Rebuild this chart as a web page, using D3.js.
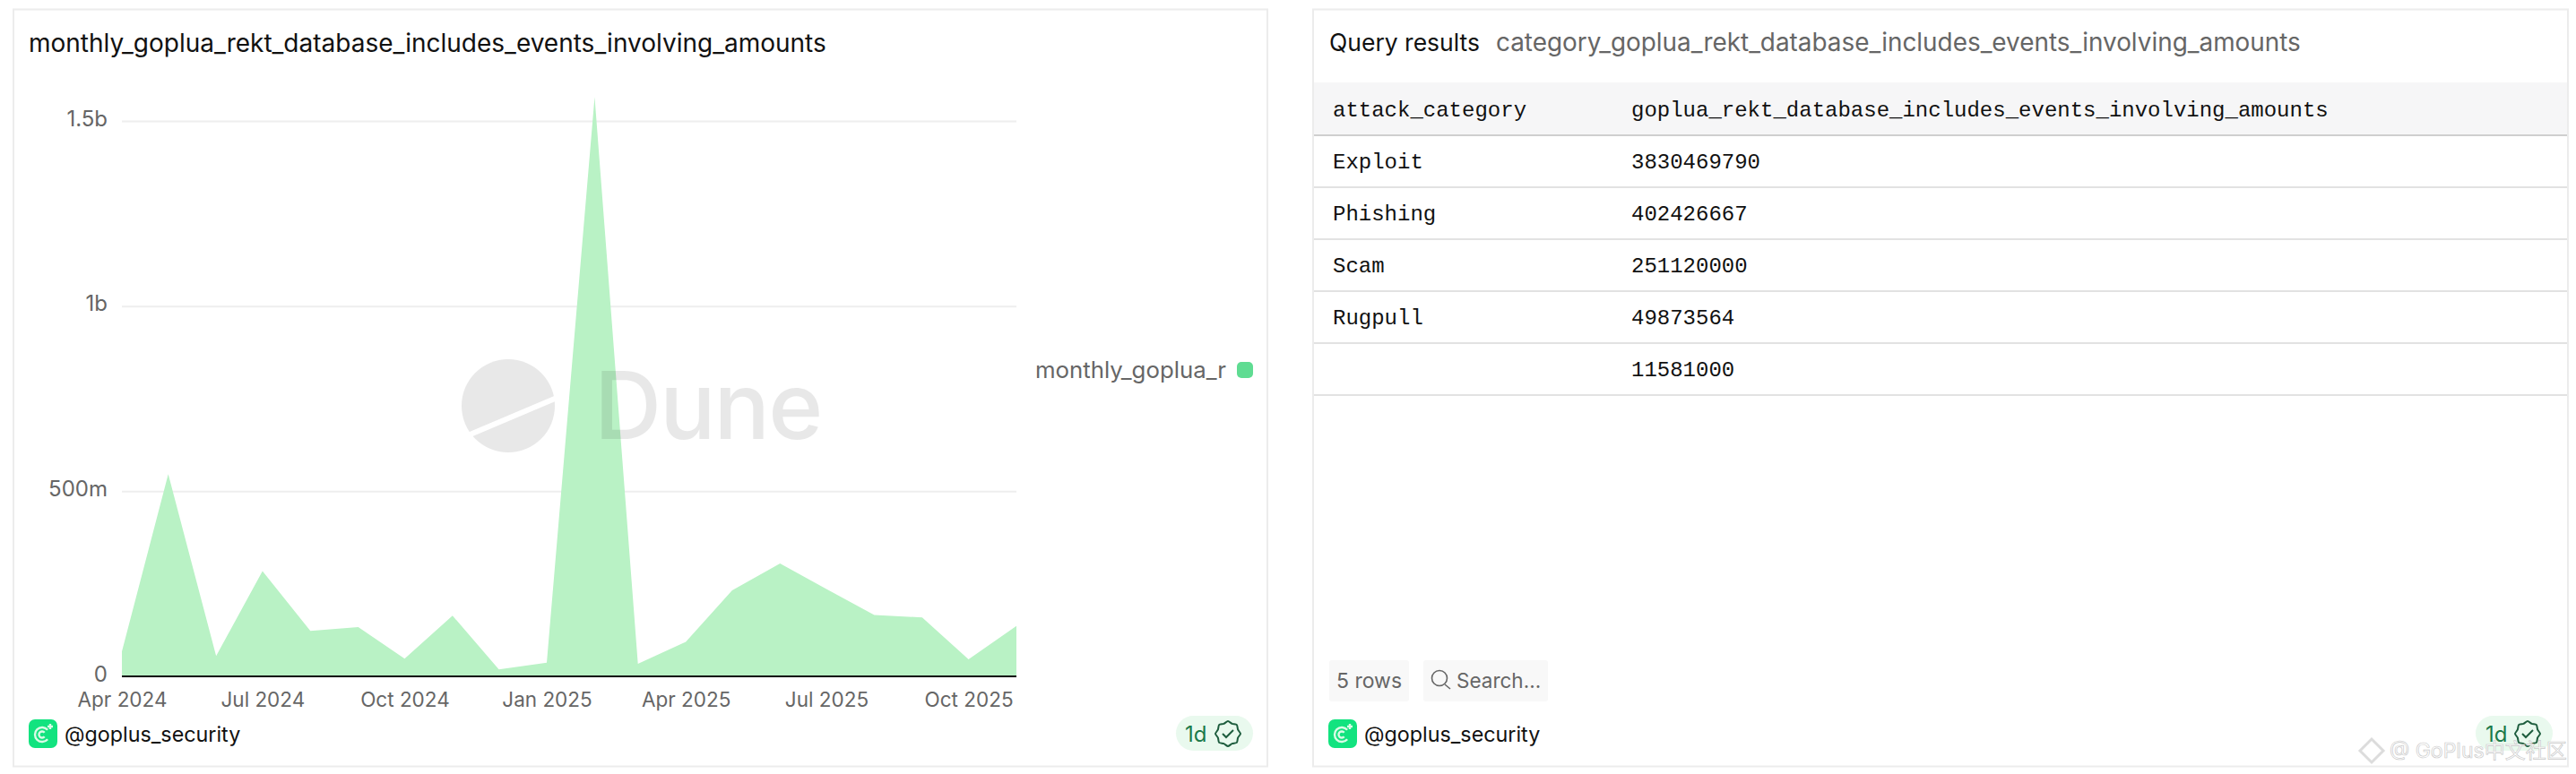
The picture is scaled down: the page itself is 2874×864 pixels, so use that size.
<!DOCTYPE html>
<html><head><meta charset="utf-8">
<script src="https://cdnjs.cloudflare.com/ajax/libs/d3/7.8.5/d3.min.js"></script>
<style>
html,body{margin:0;padding:0;background:#fff;width:2874px;height:864px;overflow:hidden}
svg{display:block}
text{font-family:Inter,"Noto Sans",sans-serif}
.mono{font-family:"Liberation Mono",monospace}
.domain{display:none}
</style></head><body><svg id="c" width="2874" height="864"></svg>
<script>
const chartTitle = "monthly_goplua_rekt_database_includes_events_involving_amounts";
const months = ["2024-04","2024-05","2024-06","2024-07","2024-08","2024-09","2024-10","2024-11","2024-12","2025-01","2025-02","2025-03","2025-04","2025-05","2025-06","2025-07","2025-08","2025-09","2025-10","2025-11"];
const monthlyValues = [67e6,546e6,55e6,284e6,123e6,133e6,48e6,164e6,19e6,37e6,1565e6,34e6,93e6,232e6,305e6,236e6,166e6,159e6,46e6,136e6];
const yTicks = [0,5e8,1e9,1.5e9];
const yTickLabels = ["0","500m","1b","1.5b"];
const xTicks = ["2024-04","2024-07","2024-10","2025-01","2025-04","2025-07","2025-10"];
const legendLabel = "monthly_goplua_r";
const tableTitle = "Query results";
const tableSubtitle = "category_goplua_rekt_database_includes_events_involving_amounts";
const tableColumns = ["attack_category","goplua_rekt_database_includes_events_involving_amounts"];
const categories = ["Exploit","Phishing","Scam","Rugpull",""];
const categoryAmounts = ["3830469790","402426667","251120000","49873564","11581000"];

const svg = d3.select("#c");
const parse = d3.utcParse("%Y-%m");
const fmt = d3.utcFormat("%b %Y");
const data = months.map((m,i)=>({d:parse(m),v:monthlyValues[i]}));

function card(x0,x1){
  svg.append("rect").attr("x",x0).attr("y",10.5).attr("width",x1-x0).attr("height",845)
    .attr("fill","#fff").attr("stroke","#ececec").attr("stroke-width",2);
}
card(15,1414); card(1465,2865);

// chart
const x = d3.scaleUtc().domain(d3.extent(data,d=>d.d)).range([136,1134]);
const y = d3.scaleLinear().domain([0,1.5e9]).range([755,135]);
svg.append("text").attr("x",32).attr("y",58).attr("font-size",28).attr("fill","#111").text(chartTitle);

const yAxis = d3.axisLeft(y).tickValues(yTicks).tickSize(-998).tickPadding(16)
  .tickFormat((d,i)=>yTickLabels[i]);
const yG = svg.append("g").attr("transform","translate(136,0)").call(yAxis);
yG.selectAll(".tick line").attr("stroke","#eeeeee").attr("stroke-width",2);
yG.selectAll(".tick text").attr("fill","#666").attr("font-size",24).attr("font-family","Inter").attr("dy","0.22em");

svg.append("path").datum(data).attr("fill","#b9f2c5")
  .attr("d",d3.area().x(d=>x(d.d)).y0(y(0)).y1(d=>y(d.v)));

const xAxis = d3.axisBottom(x).tickValues(xTicks.map(parse)).tickSize(0).tickPadding(18).tickFormat(fmt);
const xG = svg.append("g").attr("transform","translate(0,755)").call(xAxis);
xG.selectAll(".tick text").attr("fill","#666").attr("font-size",22.5).attr("font-family","Inter");
svg.append("line").attr("x1",136).attr("x2",1134).attr("y1",755).attr("y2",755).attr("stroke","#111").attr("stroke-width",2);

// watermark
const wm = svg.append("g").attr("fill","#000").attr("opacity",0.085);
wm.append("circle").attr("cx",567).attr("cy",453).attr("r",52);
svg.append("line").attr("x1",508).attr("y1",492).attr("x2",626).attr("y2",442).attr("stroke","#fff").attr("stroke-width",6);
wm.append("text").attr("x",663).attr("y",490).attr("font-size",104).attr("font-weight",500).attr("letter-spacing",-2).text("Dune");

// legend
svg.append("text").attr("x",1155).attr("y",422).attr("font-size",25.8).attr("fill","#666").text(legendLabel);
svg.append("rect").attr("x",1380).attr("y",404).attr("width",18).attr("height",18).attr("rx",5).attr("fill","#5fdc92");

// logo + footer
function footer(cx, bx0, bx1, tx, ix){
  svg.append("rect").attr("x",cx).attr("y",803).attr("width",32).attr("height",32).attr("rx",7).attr("fill","#12e37f");
  const g = svg.append("g").attr("fill","none").attr("stroke","#d9fbe6").attr("stroke-width",2.4);
  const a = d3.arc();
  const s = Math.PI/2+0.7, e = Math.PI/2+2*Math.PI-0.7;
  g.append("path").attr("transform",`translate(${cx+15},820)`).attr("d",a({innerRadius:8,outerRadius:8,startAngle:s,endAngle:e}));
  g.append("path").attr("transform",`translate(${cx+15},820)`).attr("d",a({innerRadius:3.5,outerRadius:3.5,startAngle:s,endAngle:e}));
  g.append("path").attr("d",d3.line()([[cx+24,808],[cx+24,814]]));
  g.append("path").attr("d",d3.line()([[cx+21,811],[cx+27,811]]));
  svg.append("text").attr("x",cx+40).attr("y",828).attr("font-size",23.3).attr("fill","#111").text("@goplus_security");
  svg.append("rect").attr("x",bx0).attr("y",799).attr("width",bx1-bx0).attr("height",39).attr("rx",19.5).attr("fill","#e9f9ee");
  svg.append("text").attr("x",tx).attr("y",828).attr("font-size",24).attr("fill","#1c7a4a").text("1d");
  const star = d3.lineRadial().curve(d3.curveCardinalClosed.tension(0.4))
    .angle(d=>d.a).radius(d=>d.r)(d3.range(16).map(i=>({a:i*Math.PI/8,r:i%2?12:14})));
  svg.append("path").attr("transform",`translate(${ix},819)`).attr("d",star).attr("fill","none").attr("stroke","#1d5c3d").attr("stroke-width",2);
  svg.append("path").attr("transform",`translate(${ix},819)`)
    .attr("d",d3.line()([[-6,0],[-2,4],[6,-4]])).attr("fill","none").attr("stroke","#1d5c3d").attr("stroke-width",2);
}
footer(32,1312,1398,1322,1370);

// table
svg.append("text").attr("x",1483).attr("y",57).attr("font-size",26.5).attr("fill","#111").text(tableTitle);
svg.append("text").attr("x",1669).attr("y",57).attr("font-size",27.9).attr("fill","#666").text(tableSubtitle);
const rowY = d3.scaleLinear().domain([0,1]).range([151,209]);
svg.append("rect").attr("x",1466).attr("y",92).attr("width",1398).attr("height",58).attr("fill","#f6f6f7");
svg.append("line").attr("x1",1466).attr("x2",2864).attr("y1",151).attr("y2",151).attr("stroke","#cfcfcf").attr("stroke-width",2);
svg.selectAll(".hd").data(tableColumns).join("text").attr("class","mono")
  .attr("x",(d,i)=>[1487,1820][i]).attr("y",130).attr("font-size",24).attr("fill","#111").text(d=>d);
const rows = svg.selectAll(".row").data(categories.map((c,i)=>({c,a:categoryAmounts[i]}))).join("g").attr("class","row");
rows.append("line").attr("x1",1466).attr("x2",2864)
  .attr("y1",(d,i)=>rowY(i+1)).attr("y2",(d,i)=>rowY(i+1)).attr("stroke","#e2e2e2").attr("stroke-width",2);
rows.append("text").attr("class","mono").attr("x",1487).attr("y",(d,i)=>rowY(i+0.5)+8).attr("font-size",24).attr("fill","#111").text(d=>d.c);
rows.append("text").attr("class","mono").attr("x",1820).attr("y",(d,i)=>rowY(i+0.5)+8).attr("font-size",24).attr("fill","#111").text(d=>d.a);

// table footer chips
svg.append("rect").attr("x",1483).attr("y",737).attr("width",89).attr("height",46).attr("rx",3).attr("fill","#f8f8f8");
svg.append("text").attr("x",1491).attr("y",768).attr("font-size",23).attr("fill","#666").text("5 rows");
svg.append("rect").attr("x",1588).attr("y",737).attr("width",139).attr("height",46).attr("rx",3).attr("fill","#f8f8f8");
svg.append("circle").attr("cx",1606).attr("cy",757).attr("r",8.5).attr("fill","none").attr("stroke","#666").attr("stroke-width",1.6);
svg.append("line").attr("x1",1612).attr("y1",764).attr("x2",1618).attr("y2",769).attr("stroke","#666").attr("stroke-width",1.6);
svg.append("text").attr("x",1625).attr("y",768).attr("font-size",22.5).attr("fill","#666").text("Search...");
footer(1482,2762,2848,2773,2820);

// source watermark
const sm = svg.append("g").attr("fill","#fff").attr("stroke","#c9c9c9").attr("stroke-width",0.7);
sm.append("path").attr("transform","translate(2646,838)").attr("d",d3.line()([[-13,0],[0,-13],[13,0],[0,13]])+"Z").attr("fill","none").attr("stroke","#dcdcdc").attr("stroke-width",3);
sm.append("text").attr("x",2666).attr("y",846).attr("font-size",23).text("@ GoPlus中文社区").style("font-family","Inter,'Noto Sans CJK SC'");
</script></body></html>
